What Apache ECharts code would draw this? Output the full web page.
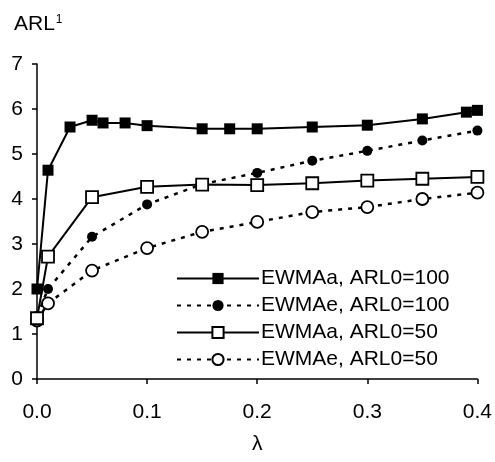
<!DOCTYPE html>
<html>
<head>
<meta charset="utf-8">
<script src="https://cdn.jsdelivr.net/npm/echarts@6/dist/echarts.min.js"></script>
<style>html,body{margin:0;padding:0;background:#fff;}#c{width:495px;height:462px;}</style>
</head>
<body>
<div id="c"></div>
<script>
var seriesNames = ['EWMAa, ARL0=100', 'EWMAe, ARL0=100', 'EWMAa, ARL0=50', 'EWMAe, ARL0=50'];
var lambdaA100 = [0, 0.01, 0.03, 0.05, 0.06, 0.08, 0.1, 0.15, 0.175, 0.2, 0.25, 0.3, 0.35, 0.39, 0.4];
var arlA100 = [2.0, 4.64, 5.6, 5.75, 5.69, 5.69, 5.63, 5.56, 5.56, 5.56, 5.6, 5.64, 5.78, 5.93, 5.97];
var lambdaOther = [0, 0.01, 0.05, 0.1, 0.15, 0.2, 0.25, 0.3, 0.35, 0.4];
var arlE100 = [1.4, 2.0, 3.16, 3.88, 4.33, 4.58, 4.85, 5.07, 5.3, 5.52];
var arlA50 = [1.35, 2.72, 4.04, 4.27, 4.32, 4.31, 4.35, 4.41, 4.45, 4.49];
var arlE50 = [1.3, 1.68, 2.41, 2.91, 3.27, 3.49, 3.71, 3.82, 4.0, 4.14];
var yTitleMain = 'ARL';
var yTitleSup = '1';
var xTitle = '\u03bb';

function pairs(xs, ys) { return xs.map(function (x, i) { return [x, ys[i]]; }); }

var FONT = 'Liberation Sans, Arial, sans-serif';
var chart = echarts.init(document.getElementById('c'));
chart.setOption({
  animation: false,
  backgroundColor: '#fff',
  title: {
    text: '{m|' + yTitleMain + '}{s|' + yTitleSup + '}', left: 9, top: 9,
    textStyle: {
      fontWeight: 'normal',
      rich: {
        m: { fontFamily: FONT, fontSize: 21, fontWeight: 'normal', color: '#000', verticalAlign: 'bottom' },
        s: { fontFamily: FONT, fontSize: 12, fontWeight: 'normal', color: '#000', verticalAlign: 'top', padding: [0, 0, 8, 1] }
      }
    }
  },
  grid: { left: 37, right: 17, top: 64, bottom: 83, containLabel: false },
  legend: {
    orient: 'vertical', left: 171, top: 263, itemWidth: 82, itemHeight: 14, itemGap: 6,
    textStyle: { fontFamily: FONT, fontSize: 21, color: '#000', padding: [0, 0, 0, -3] },
    data: seriesNames
  },
  xAxis: {
    type: 'value', min: 0, max: 0.4, interval: 0.1,
    name: xTitle, nameLocation: 'middle', nameGap: 55,
    nameTextStyle: { fontFamily: FONT, fontSize: 21, color: '#000' },
    axisLine: { lineStyle: { color: '#000', width: 1.5 } },
    axisTick: { show: true, length: 5, lineStyle: { color: '#000', width: 1.5 } },
    axisLabel: { fontFamily: FONT, fontSize: 21, color: '#000', margin: 23, formatter: function (v) { return v.toFixed(1); } },
    splitLine: { show: false }
  },
  yAxis: {
    type: 'value', min: 0, max: 7, interval: 1,
    axisLine: { show: true, lineStyle: { color: '#000', width: 1.5 } },
    axisTick: { show: true, length: 5, lineStyle: { color: '#000', width: 1.5 } },
    axisLabel: { fontFamily: FONT, fontSize: 21, color: '#000', margin: 14 },
    splitLine: { show: false }
  },
  series: [
    { name: seriesNames[0], type: 'line', data: pairs(lambdaA100, arlA100), symbol: 'rect', symbolSize: 11, showAllSymbol: true,
      lineStyle: { color: '#000', width: 2 }, itemStyle: { color: '#000', borderColor: '#000', borderWidth: 0 }, z: 4 },
    { name: seriesNames[1], type: 'line', data: pairs(lambdaOther, arlE100), symbol: 'circle', symbolSize: 10, showAllSymbol: true,
      lineStyle: { color: '#000', width: 2.5, type: [4, 6] }, itemStyle: { color: '#000', borderColor: '#000', borderWidth: 0 }, z: 3 },
    { name: seriesNames[2], type: 'line', data: pairs(lambdaOther, arlA50), symbol: 'rect', symbolSize: 12, showAllSymbol: true,
      lineStyle: { color: '#000', width: 2 }, itemStyle: { color: '#fff', borderColor: '#000', borderWidth: 1.8 }, z: 5 },
    { name: seriesNames[3], type: 'line', data: pairs(lambdaOther, arlE50), symbol: 'circle', symbolSize: 12, showAllSymbol: true,
      lineStyle: { color: '#000', width: 2.5, type: [4, 6] }, itemStyle: { color: '#fff', borderColor: '#000', borderWidth: 1.8 }, z: 2 }
  ]
});
</script>
</body>
</html>
